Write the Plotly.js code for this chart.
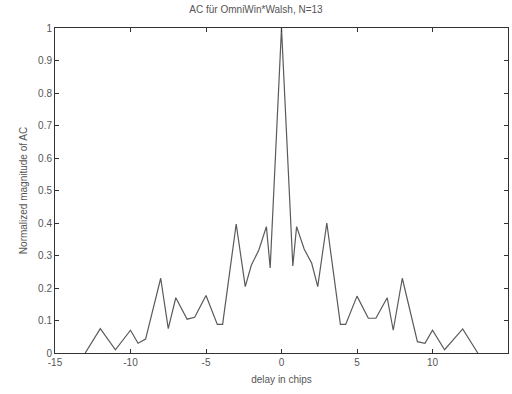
<!DOCTYPE html>
<html>
<head>
<meta charset="utf-8">
<script src="https://cdn.plot.ly/plotly-3.0.1.min.js"></script>
<style>html,body{margin:0;padding:0;background:#fff;}#chart{width:512px;height:394px;}</style>
</head>
<body>
<div id="chart"></div>
<script>
const delay = [-13, -12, -11, -10, -9.5, -9, -8, -7.5, -7, -6.25, -5.75, -5, -4.25, -3.9, -3, -2.4, -2, -1.5, -1, -0.75, 0, 0.75, 1, 1.5, 2, 2.4, 3, 3.9, 4.25, 5, 5.75, 6.25, 7, 7.4, 8, 9, 9.5, 10, 10.8, 12, 13];
const magnitude = [0, 0.075, 0.01, 0.07, 0.03, 0.043, 0.23, 0.075, 0.17, 0.104, 0.11, 0.177, 0.088, 0.088, 0.397, 0.204, 0.27, 0.317, 0.389, 0.262, 1.0, 0.268, 0.389, 0.32, 0.276, 0.204, 0.4, 0.088, 0.088, 0.175, 0.107, 0.107, 0.17, 0.07, 0.23, 0.035, 0.03, 0.07, 0.01, 0.074, 0];
const xTicks = [-15, -10, -5, 0, 5, 10, 15];
const yTicks = [0, 0.1, 0.2, 0.3, 0.4, 0.5, 0.6, 0.7, 0.8, 0.9, 1];
const yTickText = ['0', '0.1', '0.2', '0.3', '0.4', '0.5', '0.6', '0.7', '0.8', '0.9', '1'];

const trace = {
  x: delay, y: magnitude, type: 'scatter', mode: 'lines',
  line: {color: '#5a5a5a', width: 1.2}
};
const font = {family: 'Liberation Sans, Arial, sans-serif', size: 10, color: '#555'};
const layout = {
  width: 512, height: 394,
  margin: {l: 55, r: 4, t: 28, b: 41},
  paper_bgcolor: '#fff', plot_bgcolor: '#fff',
  font: font,
  showlegend: false,
  title: {text: 'AC für OmniWin*Walsh, N=13', x: 0.5, xanchor: 'center', y: 0.985, yanchor: 'top', font: {family: font.family, size: 10, color: '#555'}},
  xaxis: {
    range: [-15, 15], tickvals: xTicks, ticktext: xTicks.map(String),
    ticks: 'inside', ticklen: 4, tickcolor: '#333', showline: true, linecolor: '#333', linewidth: 1,
    mirror: 'ticks', showgrid: false, zeroline: false,
    title: {text: 'delay in chips', standoff: 8, font: {family: font.family, size: 10, color: '#555'}}
  },
  yaxis: {
    range: [0, 1], tickvals: yTicks, ticktext: yTickText,
    ticks: 'inside', ticklen: 4, tickcolor: '#333', showline: true, linecolor: '#333', linewidth: 1,
    mirror: 'ticks', showgrid: false, zeroline: false,
    title: {text: 'Normalized magnitude of AC', standoff: 8, font: {family: font.family, size: 10, color: '#555'}}
  }
};
Plotly.newPlot('chart', [trace], layout, {displayModeBar: false, staticPlot: true});
</script>
</body>
</html>
